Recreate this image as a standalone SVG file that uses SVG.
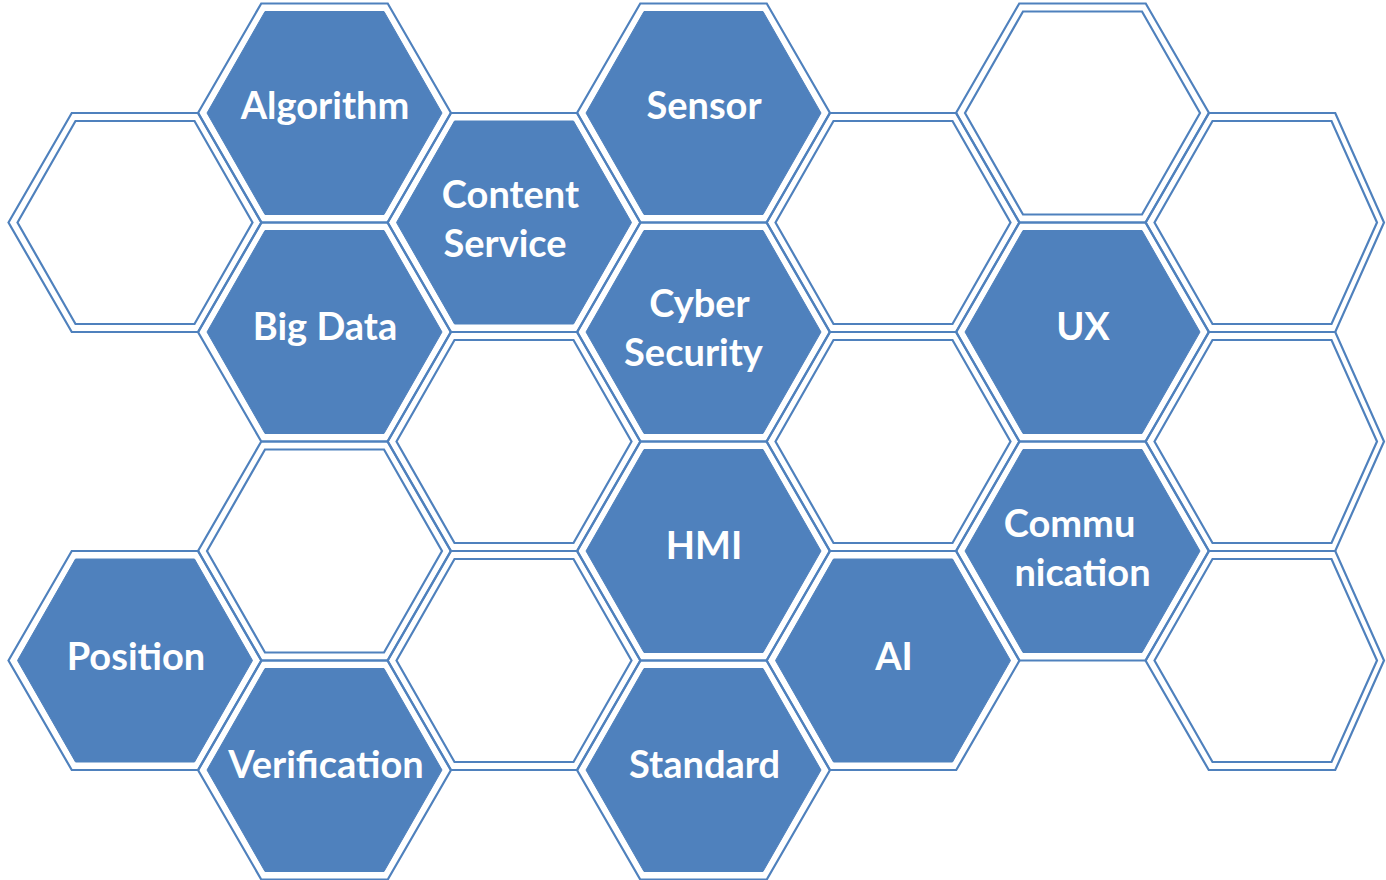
<svg xmlns="http://www.w3.org/2000/svg" width="1386" height="880" viewBox="0 0 1386 880">
  <style>
    .outer { fill: none; stroke: #4F81BD; stroke-width: 2.2; }
    .inner-fill { fill: #4F81BD; stroke: #4F81BD; stroke-width: 1; }
    .inner-empty { fill: none; stroke: #4F81BD; stroke-width: 2.2; }
    .lbl { font-family: Lato, "Liberation Sans", sans-serif; font-weight: bold; font-size: 38px; fill: #FFFFFF; text-anchor: middle; }
  </style>
  <defs>
    <polygon id="hexO" points="-126.5,0 -63.25,-109.5 63.25,-109.5 126.5,0 63.25,109.5 -63.25,109.5"/>
    <polygon id="hexI" points="-117.5,0 -59.5,-101.5 59.5,-101.5 117.5,0 59.5,101.5 -59.5,101.5"/>
    <polygon id="hexOR" points="-126.5,0 -63.25,-109.5 63.25,-109.5 112,0 63.25,109.5 -63.25,109.5"/>
    <polygon id="hexIR" points="-117.5,0 -59.5,-101.5 59.5,-101.5 105,0 59.5,101.5 -59.5,101.5"/>
  </defs>
  <rect width="1386" height="880" fill="#FFFFFF"/>

  <!-- Column 0 -->
  <g id="hex-c0-r0" transform="translate(135,222.5)">
    <use href="#hexO" class="outer"/><use href="#hexI" class="inner-empty"/>
  </g>
  <g id="hex-position" transform="translate(135,660.5)">
    <use href="#hexO" class="outer"/><use href="#hexI" class="inner-fill"/>
    <text class="lbl" x="1" y="9">Position</text>
  </g>

  <!-- Column 1 -->
  <g id="hex-algorithm" transform="translate(324.5,113)">
    <use href="#hexO" class="outer"/><use href="#hexI" class="inner-fill"/>
    <text class="lbl" x="0.5" y="6">Algorithm</text>
  </g>
  <g id="hex-bigdata" transform="translate(324.5,332)">
    <use href="#hexO" class="outer"/><use href="#hexI" class="inner-fill"/>
    <text class="lbl" x="0.5" y="8">Big Data</text>
  </g>
  <g id="hex-c1-r2" transform="translate(324.5,551)">
    <use href="#hexO" class="outer"/><use href="#hexI" class="inner-empty"/>
  </g>
  <g id="hex-verification" transform="translate(324.5,770)">
    <use href="#hexO" class="outer"/><use href="#hexI" class="inner-fill"/>
    <text class="lbl" x="1.5" y="8">Verification</text>
  </g>

  <!-- Column 2 -->
  <g id="hex-content-service" transform="translate(514,222.5)">
    <use href="#hexO" class="outer"/><use href="#hexI" class="inner-fill"/>
    <text class="lbl" x="-3.5" y="-15">Content</text>
    <text class="lbl" x="-9" y="34.5">Service</text>
  </g>
  <g id="hex-c2-r1" transform="translate(514,441.5)">
    <use href="#hexO" class="outer"/><use href="#hexI" class="inner-empty"/>
  </g>
  <g id="hex-c2-r2" transform="translate(514,660.5)">
    <use href="#hexO" class="outer"/><use href="#hexI" class="inner-empty"/>
  </g>

  <!-- Column 3 -->
  <g id="hex-sensor" transform="translate(703.5,113)">
    <use href="#hexO" class="outer"/><use href="#hexI" class="inner-fill"/>
    <text class="lbl" x="0.5" y="6">Sensor</text>
  </g>
  <g id="hex-cyber-security" transform="translate(703.5,332)">
    <use href="#hexO" class="outer"/><use href="#hexI" class="inner-fill"/>
    <text class="lbl" x="-4" y="-15">Cyber</text>
    <text class="lbl" x="-10" y="34">Security</text>
  </g>
  <g id="hex-hmi" transform="translate(703.5,551)">
    <use href="#hexO" class="outer"/><use href="#hexI" class="inner-fill"/>
    <text class="lbl" x="0.5" y="8">HMI</text>
  </g>
  <g id="hex-standard" transform="translate(703.5,770)">
    <use href="#hexO" class="outer"/><use href="#hexI" class="inner-fill"/>
    <text class="lbl" x="1" y="8">Standard</text>
  </g>

  <!-- Column 4 -->
  <g id="hex-c4-r0" transform="translate(893,222.5)">
    <use href="#hexO" class="outer"/><use href="#hexI" class="inner-empty"/>
  </g>
  <g id="hex-c4-r1" transform="translate(893,441.5)">
    <use href="#hexO" class="outer"/><use href="#hexI" class="inner-empty"/>
  </g>
  <g id="hex-ai" transform="translate(893,660.5)">
    <use href="#hexO" class="outer"/><use href="#hexI" class="inner-fill"/>
    <text class="lbl" x="1" y="9">AI</text>
  </g>

  <!-- Column 5 -->
  <g id="hex-c5-r0" transform="translate(1082.5,113)">
    <use href="#hexO" class="outer"/><use href="#hexI" class="inner-empty"/>
  </g>
  <g id="hex-ux" transform="translate(1082.5,332)">
    <use href="#hexO" class="outer"/><use href="#hexI" class="inner-fill"/>
    <text class="lbl" x="0.5" y="8">UX</text>
  </g>
  <g id="hex-communication" transform="translate(1082.5,551)">
    <use href="#hexO" class="outer"/><use href="#hexI" class="inner-fill"/>
    <text class="lbl" x="-13" y="-14">Commu</text>
    <text class="lbl" x="0" y="35">nication</text>
  </g>

  <!-- Column 6 -->
  <g id="hex-c6-r0" transform="translate(1272,222.5)">
    <use href="#hexOR" class="outer"/><use href="#hexIR" class="inner-empty"/>
  </g>
  <g id="hex-c6-r1" transform="translate(1272,441.5)">
    <use href="#hexOR" class="outer"/><use href="#hexIR" class="inner-empty"/>
  </g>
  <g id="hex-c6-r2" transform="translate(1272,660.5)">
    <use href="#hexOR" class="outer"/><use href="#hexIR" class="inner-empty"/>
  </g>

  <g id="connectors"/>
</svg>
